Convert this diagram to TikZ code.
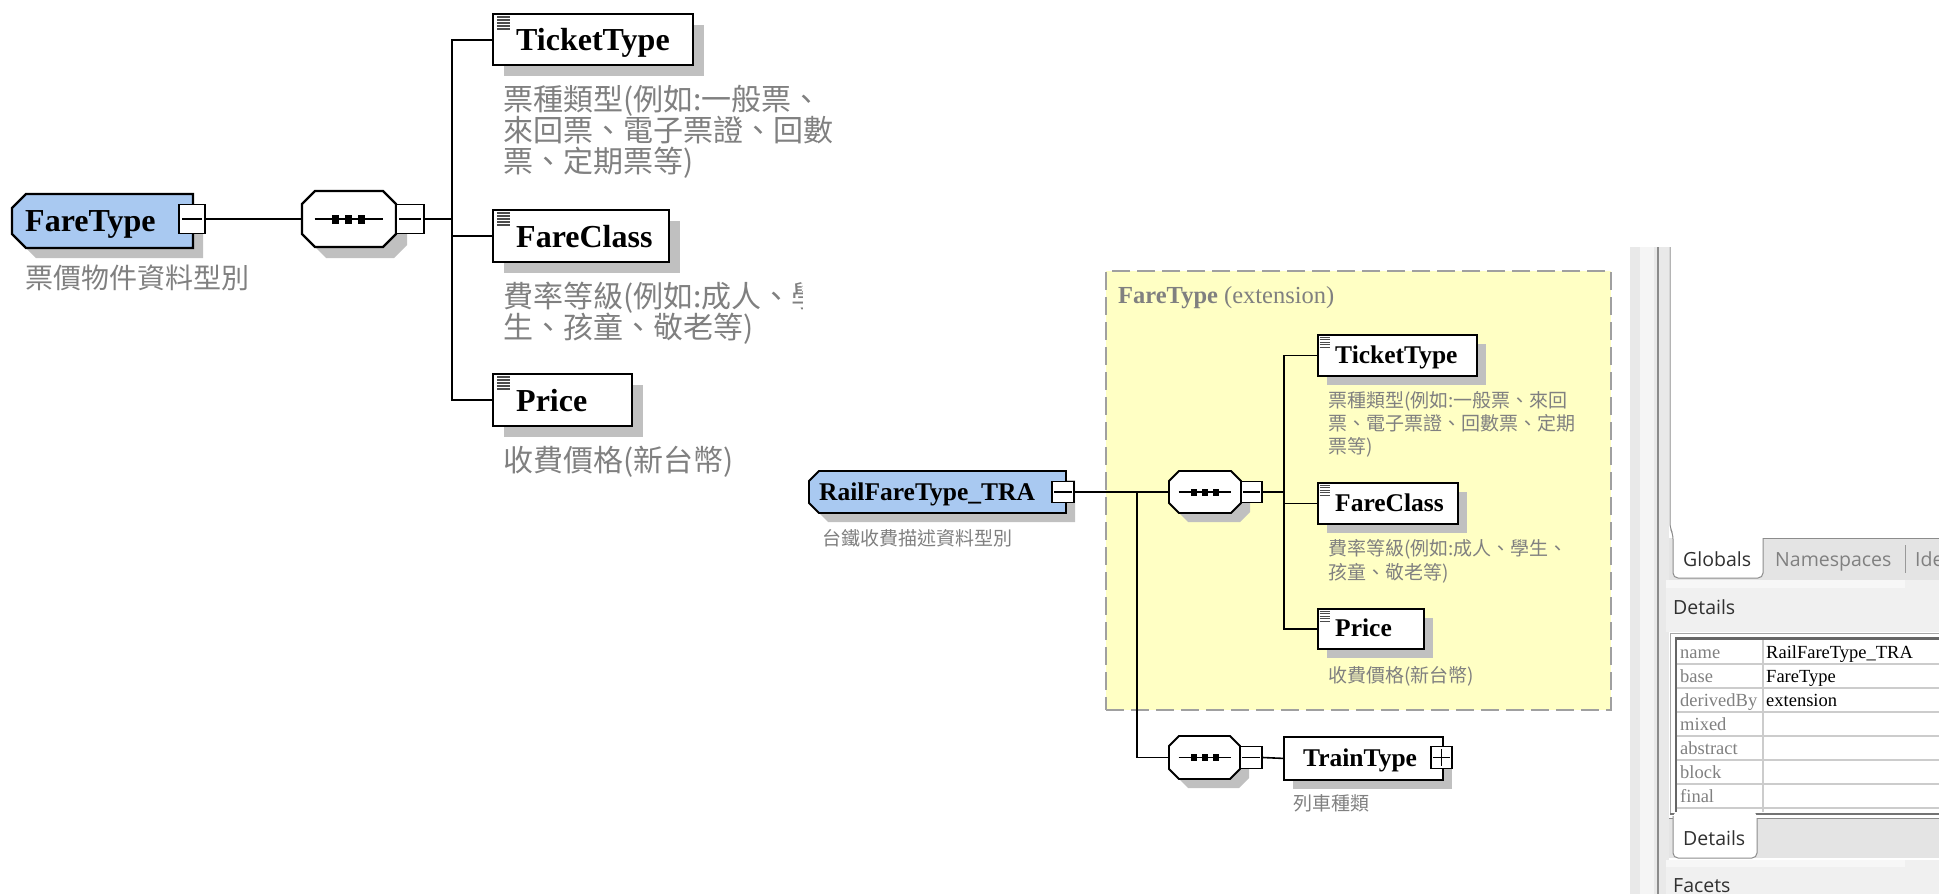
\documentclass[tikz,border=0pt]{standalone}
\usepackage{fontspec}
\setmainfont{Liberation Serif}
\newfontfamily\cjk{Noto Sans CJK TC}
\newfontfamily\uisans{Open Sans}
\usetikzlibrary{shadows}

\definecolor{typeblue}{HTML}{A9C9F1}
\definecolor{shadowgray}{HTML}{C0C0C0}
\definecolor{extyellow}{HTML}{FFFFC4}
\definecolor{dashgray}{HTML}{A0A0A0}
\definecolor{descgray}{HTML}{808080}
\definecolor{panelgray}{HTML}{E9E9E9}
\definecolor{tabgray}{HTML}{E4E4E4}
\definecolor{headgray}{HTML}{F0F0F0}
\definecolor{uitext}{HTML}{303030}

% complex type outline: bevelled on the left side only
\newcommand\ctypeshape[5]{({#1+#5},#2) -- (#3,#2) -- (#3,#4) -- ({#1+#5},#4) -- (#1,{#4-#5}) -- (#1,{#2+#5}) -- cycle}
% sequence compositor outline: all four corners bevelled
\newcommand\seqshape[5]{({#1+#5},#2) -- ({#3-#5},#2) -- (#3,{#2+#5}) -- (#3,{#4-#5}) -- ({#3-#5},#4) -- ({#1+#5},#4) -- (#1,{#4-#5}) -- (#1,{#2+#5}) -- cycle}
% sequence symbol: a line with three small squares
\newcommand\seqsym[7]{%
  \draw[line width=#7] ({#1-#3},#2) -- ({#1+#3},#2);
  \foreach \k in {-1,0,1}
    \fill ({#1+\k*#6-#4/2},{#2-#5/2}) rectangle ({#1+\k*#6+#4/2},{#2+#5/2});
}
% text-content icon in the corner of an element box
\newcommand\elicon[5]{%
  \foreach \k in {0,...,4}
    \draw[line width=#5, black!70] (#1,{#2+\k*#4}) -- ({#1+#3},{#2+\k*#4});
}

\begin{document}
\begin{tikzpicture}[x=1pt,y=-1pt,
  conn/.style={line width=2pt, black},
  connR/.style={line width=1.6pt, black},
  frame/.style={inner sep=0pt, outer sep=0pt},
  elbox/.style={draw=black, line width=2.2pt, fill=white, inner sep=0pt, anchor=north west,
    drop shadow={shadow xshift=11pt, shadow yshift=-11pt, opacity=1, fill=shadowgray, draw=none}},
  elboxR/.style={draw=black, line width=1.8pt, fill=white, inner sep=0pt, anchor=north west,
    drop shadow={shadow xshift=9pt, shadow yshift=-9pt, opacity=1, fill=shadowgray, draw=none}},
  pmbox/.style={draw=black, line width=1.6pt, fill=white, inner sep=0pt},
  nameL/.style={font=\fontsize{32}{32}\selectfont\bfseries, inner sep=0pt, anchor=base west},
  nameR/.style={font=\fontsize{25.5}{25.5}\selectfont\bfseries, inner sep=0pt, anchor=base west},
  descL/.style={font=\cjk\fontsize{30}{30}\selectfont, text=descgray, inner sep=0pt, anchor=base west},
  descR/.style={font=\cjk\fontsize{19}{19}\selectfont, text=descgray, inner sep=0pt, anchor=base west},
  ui/.style={font=\uisans\fontsize{19.5}{19.5}\selectfont, text=uitext, inner sep=0pt, anchor=base west},
  tbl/.style={font=\fontsize{18.5}{18.5}\selectfont, inner sep=0pt, anchor=base west}]

\useasboundingbox (0,0) rectangle (1939,894);
\fill[white] (0,0) rectangle (1939,894);

%% ---------------- FareType (left) ----------------
\fill[shadowgray, shift={(10,10)}] \ctypeshape{12}{194}{193}{248}{14};
\draw[line width=2.2pt, fill=typeblue] \ctypeshape{12}{194}{193}{248}{14};
\node[frame, minimum width=181, minimum height=54, anchor=north west] (ftL) at (12,194) {};
\node[nameL] (ftLtxt) at (25,231) {FareType};
\node[pmbox, minimum width=26, minimum height=29] (ftLm) at (192,219) {};
\draw[line width=1.6pt] ([xshift=4pt]ftLm.west) -- ([xshift=-4pt]ftLm.east);
\node[descL, font=\cjk\fontsize{28}{28}\selectfont] (ftLlbl) at (25,288) {票價物件資料型別};

% sequence compositor
\fill[shadowgray, shift={(11,11)}] \seqshape{302}{191}{396}{247}{13};
\draw[line width=2.2pt, fill=white] \seqshape{302}{191}{396}{247}{13};
\node[frame, minimum width=94, minimum height=56, anchor=north west] (seqL) at (302,191) {};
\seqsym{348.5}{219}{34}{7}{9}{13}{2pt}
\node[pmbox, minimum width=28, minimum height=29] (seqLm) at (410,219) {};
\draw[line width=1.6pt] ([xshift=4pt]seqLm.west) -- ([xshift=-4pt]seqLm.east);
\draw[conn] (ftLm.east) -- (seqL.west);
\coordinate (busL) at (452,219);
\draw[conn] (seqLm.east) -- (busL);

% child elements
\node[elbox, minimum width=200, minimum height=51] (ttL) at (492,13) {};
\node[elbox, minimum width=176, minimum height=52] (fcL) at (492,209) {};
\node[elbox, minimum width=139, minimum height=52] (prL) at (492,373) {};
\elicon{497}{17}{13}{3}{1.3pt}
\elicon{497}{213}{13}{3}{1.3pt}
\elicon{497}{377}{13}{3}{1.3pt}
\node[nameL] (ttLtxt) at (516,50) {TicketType};
\node[nameL] (fcLtxt) at (516,247) {FareClass};
\node[nameL] (prLtxt) at (516,411) {Price};
\draw[conn] (ttL.west) -| (busL);
\draw[conn] (prL.west) -| (busL);
\draw[conn] (fcL.west) -- (busL |- fcL.west);

% descriptions
\node[descL] (ttLd1) at (503,110) {票種類型(例如:一般票、};
\node[descL] (ttLd2) at (503,141) {來回票、電子票證、回數};
\node[descL] (ttLd3) at (503,172) {票、定期票等)};
\begin{scope}
  \clip (495,270) rectangle (802,350);
  \node[descL] (fcLd1) at (503,307) {費率等級(例如:成人、學};
  \node[descL] (fcLd2) at (503,338) {生、孩童、敬老等)};
\end{scope}
\node[descL] (prLd1) at (503,471) {收費價格(新台幣)};

%% ---------------- RailFareType_TRA (right) ----------------
\node[draw=dashgray, line width=2pt, dash pattern=on 18pt off 7pt, fill=extyellow,
      minimum width=505, minimum height=439, anchor=north west, inner sep=0pt] (ext) at (1105,270) {};
\node[anchor=base west, inner sep=0pt, text=descgray, font=\fontsize{24.5}{24.5}\selectfont]
      (extttl) at (1118,303) {\textbf{FareType} (extension)};

\fill[shadowgray, shift={(9,9)}] \ctypeshape{809}{471}{1066}{513}{10};
\draw[line width=1.8pt, fill=typeblue] \ctypeshape{809}{471}{1066}{513}{10};
\node[frame, minimum width=257, minimum height=42, anchor=north west] (rfR) at (809,471) {};
\node[nameR] (rfRtxt) at (819,500.5) {RailFareType\_TRA};
\node[pmbox, line width=1.4pt, minimum width=22, minimum height=21] (rfRm) at (1063,492) {};
\draw[line width=1.4pt] ([xshift=3pt]rfRm.west) -- ([xshift=-3pt]rfRm.east);
\node[descR] (rfRlbl) at (822,545) {台鐵收費描述資料型別};

% first sequence (inherited content)
\fill[shadowgray, shift={(9,9)}] \seqshape{1169}{471}{1241}{513}{10};
\draw[line width=1.8pt, fill=white] \seqshape{1169}{471}{1241}{513}{10};
\node[frame, minimum width=72, minimum height=42, anchor=north west] (seqR1) at (1169,471) {};
\seqsym{1204.5}{492}{26}{6}{7}{11}{1.6pt}
\node[pmbox, line width=1.4pt, minimum width=21, minimum height=21] (seqR1m) at (1251.5,492) {};
\draw[line width=1.4pt] ([xshift=3pt]seqR1m.west) -- ([xshift=-3pt]seqR1m.east);

% second sequence (extension)
\fill[shadowgray, shift={(9,9)}] \seqshape{1169}{736}{1240}{779}{10};
\draw[line width=1.8pt, fill=white] \seqshape{1169}{736}{1240}{779}{10};
\node[frame, minimum width=71, minimum height=43, anchor=north west] (seqR2) at (1169,736) {};
\seqsym{1204.5}{757.5}{26}{6}{7}{11}{1.6pt}
\node[pmbox, line width=1.4pt, minimum width=22, minimum height=22] (seqR2m) at (1251,757.5) {};
\draw[line width=1.4pt] ([xshift=3pt]seqR2m.west) -- ([xshift=-3pt]seqR2m.east);

\coordinate (busR0) at (1137,492);
\coordinate (busR1) at (1284,492);
\draw[connR] (rfRm.east) -- (seqR1.west);
\draw[connR] (busR0) |- (seqR2.west);
\draw[connR] (seqR1m.east) -- (busR1);

% child elements
\node[elboxR, minimum width=159, minimum height=41] (ttR) at (1317,334) {};
\node[elboxR, minimum width=140, minimum height=41] (fcR) at (1317,482) {};
\node[elboxR, minimum width=106, minimum height=40] (prR) at (1317,608) {};
\node[elboxR, minimum width=159, minimum height=43] (trR) at (1283,736) {};
\elicon{1319.5}{337}{10}{2.6}{1pt}
\elicon{1319.5}{485}{10}{2.6}{1pt}
\elicon{1319.5}{611}{10}{2.6}{1pt}
\node[nameR] (ttRtxt) at (1335,363) {TicketType};
\node[nameR] (fcRtxt) at (1335,511) {FareClass};
\node[nameR] (prRtxt) at (1335,636) {Price};
\node[nameR] (trRtxt) at (1303,766) {TrainType};
\node[pmbox, line width=1.4pt, minimum width=21, minimum height=22] (trRp) at (1441.5,757.5) {};
\draw[line width=1.4pt] ([xshift=3pt]trRp.west) -- ([xshift=-3pt]trRp.east);
\draw[line width=1.4pt] ([yshift=-3pt]trRp.north) -- ([yshift=3pt]trRp.south);

\draw[connR] (ttR.west) -| (busR1);
\draw[connR] (prR.west) -| (busR1);
\draw[connR] (fcR.west) -- (busR1 |- fcR.west);
\draw[connR] (seqR2m.east) -- (trR.west);

% descriptions
\node[descR] (ttRd1) at (1328,407) {票種類型(例如:一般票、來回};
\node[descR] (ttRd2) at (1328,430) {票、電子票證、回數票、定期};
\node[descR] (ttRd3) at (1328,453) {票等)};
\node[descR] (fcRd1) at (1328,555) {費率等級(例如:成人、學生、};
\node[descR] (fcRd2) at (1328,579) {孩童、敬老等)};
\node[descR] (prRd1) at (1328,682) {收費價格(新台幣)};
\node[descR] (trRlbl) at (1293,810) {列車種類};

%% ---------------- side panel ----------------
\fill[panelgray] (1630,247) rectangle (1669,894);
\fill[black!4] (1640,247) rectangle (1654,894);
\draw[black!45, line width=1.2pt] (1658,247) -- (1658,894);
\fill[white] (1670,247) rectangle (1945,538);

% upper tab row
\fill[tabgray] (1669,538) rectangle (1945,580);
\fill[white, rounded corners=5pt] (1673,530) -- (1673,578) -- (1763,578) -- (1763,530) -- cycle;
\draw[black!45, line width=1pt, rounded corners=5pt] (1670,247) -- (1670,528) -- (1673,534) -- (1673,578) -- (1763,578) -- (1763,538);
\draw[black!45, line width=1pt] (1763,538) -- (1945,538);
\node[ui] (tabGlobals) at (1683,566) {Globals};
\node[ui, text=black!50] (tabNs) at (1775,566) {Namespaces};
\draw[black!40, line width=1pt] (1905,545) -- (1905,573);
\node[ui, text=black!50] (tabId) at (1915,566) {Ide};

% details header
\fill[headgray] (1666,580) rectangle (1945,632);
\fill[black!3] (1666,580) rectangle (1905,588);
\node[ui] (hdDetails) at (1673,614) {Details};

% properties table
\fill[white] (1669,632) rectangle (1945,815);
\draw[black!35, line width=1pt] (1670,815) -- (1670,633) -- (1945,633);
\draw[black!60, line width=2.5pt] (1676,812) -- (1676,638.5) -- (1945,638.5);
\foreach \yy in {664,688,712,736,760,784,808}
  \draw[black!20, line width=1.3pt] (1677,\yy) -- (1945,\yy);
\draw[black!20, line width=1.3pt] (1763,640) -- (1763,812);
\draw[black!55, line width=1.5pt] (1670,814) -- (1945,814);
\node[tbl, text=descgray] (kName) at (1680,658) {name};
\node[tbl, text=descgray] (kBase) at (1680,682) {base};
\node[tbl, text=descgray] (kDer) at (1680,706) {derivedBy};
\node[tbl, text=descgray] (kMix) at (1680,730) {mixed};
\node[tbl, text=descgray] (kAbs) at (1680,754) {abstract};
\node[tbl, text=descgray] (kBlk) at (1680,778) {block};
\node[tbl, text=descgray] (kFin) at (1680,802) {final};
\node[tbl] (vName) at (1766,658) {RailFareType\_TRA};
\node[tbl] (vBase) at (1766,682) {FareType};
\node[tbl] (vDer) at (1766,706) {extension};

% lower tab row
\fill[tabgray] (1669,818) rectangle (1945,858);
\draw[black!45, line width=1pt] (1669,818) -- (1945,818);
\fill[white, rounded corners=5pt] (1673,812) -- (1673,858) -- (1757,858) -- (1757,812) -- cycle;
\draw[black!45, line width=1pt, rounded corners=5pt] (1673,816) -- (1673,858) -- (1757,858) -- (1757,818);
\node[ui] (tabDetails) at (1683,845) {Details};

% facets header
\fill[headgray] (1666,860) rectangle (1945,894);
\fill[black!3] (1666,860) rectangle (1905,867);
\node[ui] (hdFacets) at (1673,892) {Facets};
\end{tikzpicture}
\end{document}
